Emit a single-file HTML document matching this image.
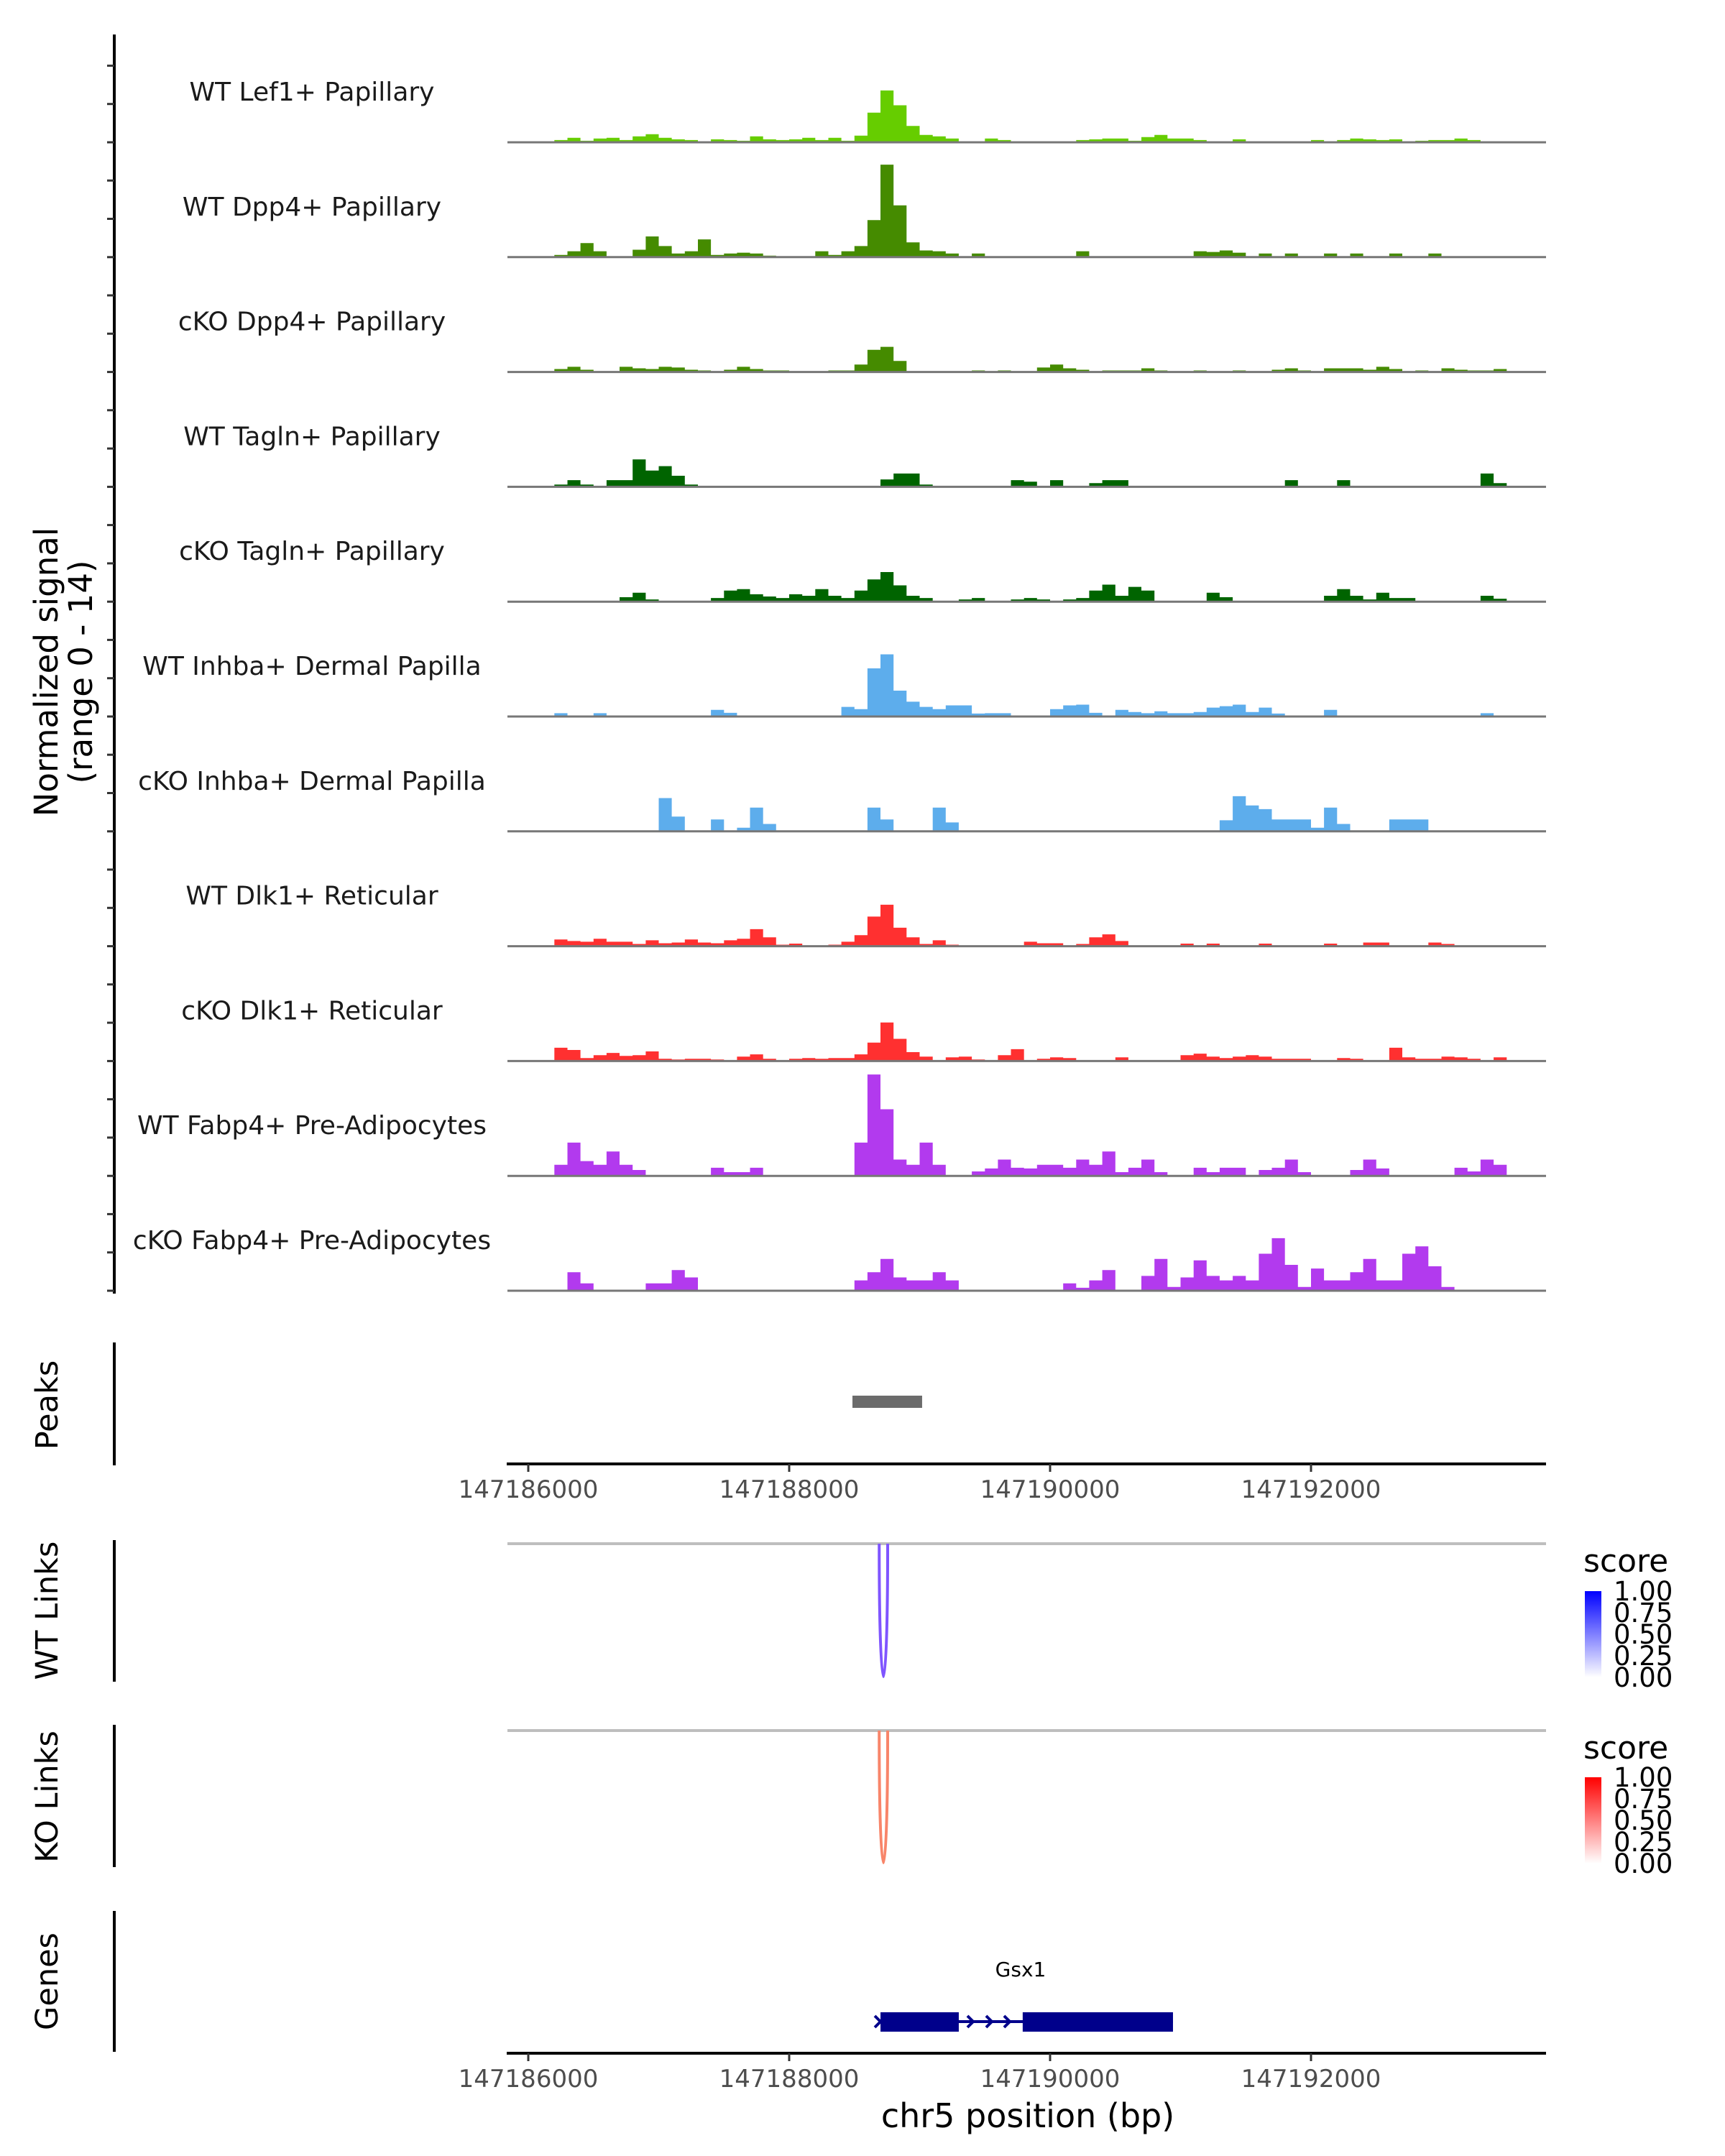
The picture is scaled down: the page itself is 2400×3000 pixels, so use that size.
<!DOCTYPE html>
<html><head><meta charset="utf-8"><style>
html,body{margin:0;padding:0;background:#fff;}
svg{display:block;font-family:"DejaVu Sans","Liberation Sans",sans-serif;}
</style></head><body>
<svg id="chart" width="2400" height="3000" viewBox="0 0 2400 3000" xmlns="http://www.w3.org/2000/svg">
<defs>
<linearGradient id="gBlue" x1="0" y1="1" x2="0" y2="0"><stop offset="0" stop-color="#ffffff"/><stop offset="1" stop-color="#0000ff"/></linearGradient>
<linearGradient id="gRed" x1="0" y1="1" x2="0" y2="0"><stop offset="0" stop-color="#ffffff"/><stop offset="1" stop-color="#ff0000"/></linearGradient>
</defs>
<g id="tracks"></g>
<line x1="159" y1="48" x2="159" y2="1800" stroke="#000" stroke-width="4"/>
<g id="yticks"></g>
<text transform="translate(80,935) rotate(-90)" text-anchor="middle" font-size="45" fill="#000">Normalized signal</text>
<text transform="translate(128,935) rotate(-90)" text-anchor="middle" font-size="45" fill="#000">(range 0 - 14)</text>

<line x1="159" y1="1868" x2="159" y2="2039" stroke="#000" stroke-width="4"/>
<text transform="translate(80,1955) rotate(-90)" text-anchor="middle" font-size="43">Peaks</text>
<rect id="peakbar" fill="#6b6b6b"/>
<g id="xaxis1"></g>

<line x1="159" y1="2143" x2="159" y2="2340" stroke="#000" stroke-width="4"/>
<text transform="translate(80,2241) rotate(-90)" text-anchor="middle" font-size="43">WT Links</text>
<line x1="706" y1="2148" x2="2151" y2="2148" stroke="#bebebe" stroke-width="4"/>
<path id="wtlink" fill="none" stroke="#7f55ff" stroke-width="4"/>

<line x1="159" y1="2400" x2="159" y2="2598" stroke="#000" stroke-width="4"/>
<text transform="translate(80,2500) rotate(-90)" text-anchor="middle" font-size="43">KO Links</text>
<line x1="706" y1="2408" x2="2151" y2="2408" stroke="#bebebe" stroke-width="4"/>
<path id="kolink" fill="none" stroke="#f8856a" stroke-width="4"/>

<g>
<text x="2203" y="2187" font-size="44">score</text>
<rect x="2205" y="2214" width="23" height="120" fill="url(#gBlue)"/>
<g font-size="37" fill="#000">
<text x="2245" y="2227">1.00</text><text x="2245" y="2257">0.75</text><text x="2245" y="2287">0.50</text><text x="2245" y="2317">0.25</text><text x="2245" y="2347">0.00</text>
</g></g>
<g>
<text x="2203" y="2447" font-size="44">score</text>
<rect x="2205" y="2473" width="23" height="120" fill="url(#gRed)"/>
<g font-size="37" fill="#000">
<text x="2245" y="2486">1.00</text><text x="2245" y="2516">0.75</text><text x="2245" y="2546">0.50</text><text x="2245" y="2576">0.25</text><text x="2245" y="2606">0.00</text>
</g></g>

<line x1="159" y1="2659" x2="159" y2="2855" stroke="#000" stroke-width="4"/>
<text transform="translate(80,2757) rotate(-90)" text-anchor="middle" font-size="43">Genes</text>
<g id="gene"></g>
<g id="xaxis2"></g>
<text x="1430" y="2960" text-anchor="middle" font-size="46">chr5 position (bp)</text>
</svg>
<script>
// ---- data ----
const startBp = 147186000;
const binSize = 100;
const trackNames = ["WT Lef1+ Papillary","WT Dpp4+ Papillary","cKO Dpp4+ Papillary","WT Tagln+ Papillary","cKO Tagln+ Papillary","WT Inhba+ Dermal Papilla","cKO Inhba+ Dermal Papilla","WT Dlk1+ Reticular","cKO Dlk1+ Reticular","WT Fabp4+ Pre-Adipocytes","cKO Fabp4+ Pre-Adipocytes"];
const trackColors = ["#66cd00","#458b00","#458b00","#006400","#006400","#5dadec","#5dadec","#ff3030","#ff3030","#b23aee","#b23aee"];
const wtLef1 = [0,0,0.3,0.6,0.2,0.5,0.6,0.3,0.8,1.1, 0.6,0.4,0.3,0.1,0.4,0.3,0.2,0.8,0.4,0.3, 0.4,0.6,0.3,0.6,0.2,0.9,4.0,7.0,5.0,2.2, 1.0,0.8,0.5,0,0,0.5,0.3,0,0,0, 0,0,0.3,0.4,0.5,0.5,0.2,0.7,1.0,0.5, 0.5,0.3,0,0,0.4,0,0,0.1,0,0, 0.3,0,0.3,0.5,0.4,0.3,0.4,0,0.2,0.3, 0.3,0.5,0.3,0.1,0,0,0,0];
const wtDpp4 = [0,0,0.3,0.8,1.9,0.8,0,0,1.0,2.8, 1.5,0.5,0.8,2.4,0.3,0.5,0.6,0.5,0.2,0, 0,0,0.8,0.3,0.8,1.5,5.0,12.5,7.0,2.0, 0.9,0.8,0.5,0.1,0.5,0,0,0,0,0, 0,0,0.8,0,0,0,0,0,0,0, 0,0.8,0.7,0.9,0.6,0,0.5,0,0.5,0, 0,0.5,0,0.5,0,0,0.5,0,0,0.5, 0,0,0,0,0,0,0,0];
const ckoDpp4 = [0,0,0.4,0.7,0.3,0,0,0.7,0.5,0.4, 0.7,0.6,0.3,0.2,0,0.3,0.7,0.4,0.2,0.2, 0,0,0,0.2,0.2,1.0,3.0,3.4,1.5,0, 0,0,0,0,0.2,0,0.2,0,0,0.6, 1.0,0.5,0.3,0,0.2,0.2,0.2,0.5,0.2,0, 0,0.2,0,0,0.2,0,0,0.3,0.5,0.2, 0,0.5,0.5,0.5,0.3,0.7,0.4,0,0.2,0, 0.5,0.3,0.2,0.2,0.4,0,0,0];
const wtTagln = [0,0,0.3,0.9,0.3,0,0.9,0.9,3.7,2.2, 2.8,1.5,0.3,0,0,0,0,0,0,0, 0,0,0,0,0,0,0,1.0,1.8,1.8, 0.3,0,0,0,0,0,0,0.9,0.7,0, 0.9,0,0,0.5,0.9,0.9,0,0,0,0, 0,0,0,0,0,0,0,0,0.9,0, 0,0,0.9,0,0,0,0,0,0,0, 0,0,0,1.8,0.5,0,0,0];
const ckoTagln = [0,0,0,0,0,0,0,0.6,1.2,0.3, 0,0,0,0,0.5,1.5,1.7,1.0,0.7,0.5, 1.0,0.8,1.7,0.8,0.5,1.5,3.0,4.0,2.2,0.8, 0.5,0,0,0.3,0.5,0,0,0.3,0.5,0.3, 0,0.3,0.5,1.5,2.3,0.8,2.0,1.5,0,0, 0,0,1.2,0.6,0,0,0,0,0,0, 0,0.8,1.7,0.8,0.3,1.2,0.5,0.5,0,0, 0,0,0,0.8,0.4,0,0,0];
const wtInhba = [0,0,0.45,0,0,0.45,0,0,0,0, 0,0,0,0,0.9,0.5,0,0,0,0, 0,0,0,0,1.3,1.0,6.5,8.4,3.5,2.0, 1.3,1.0,1.5,1.5,0.4,0.45,0.45,0,0,0, 1.0,1.5,1.6,0.5,0,0.9,0.6,0.45,0.7,0.45, 0.45,0.6,1.2,1.4,1.6,0.6,1.2,0.4,0,0, 0,0.9,0,0,0,0,0,0,0,0, 0,0,0,0.45,0,0,0,0];
const ckoInhba = [0,0,0,0,0,0,0,0,0,0, 4.5,2.0,0,0,1.6,0,0.5,3.2,1.0,0, 0,0,0,0,0,0,3.2,1.6,0,0, 0,3.2,1.2,0,0,0,0,0,0,0, 0,0,0,0,0,0,0,0,0,0, 0,0,0,1.5,4.75,3.5,3.0,1.6,1.6,1.6, 0.5,3.2,1.0,0,0,0,1.6,1.6,1.6,0, 0,0,0,0,0,0,0,0];
const wtDlk1 = [0,0,0.9,0.7,0.6,1.0,0.6,0.6,0.3,0.8, 0.4,0.5,0.9,0.5,0.4,0.8,1.0,2.3,1.2,0.2, 0.35,0,0,0.2,0.6,1.5,4.0,5.6,2.5,1.2, 0.3,0.8,0.2,0,0,0,0,0,0.6,0.4, 0.4,0,0.3,1.2,1.6,0.7,0,0,0,0, 0.35,0,0.35,0,0,0,0.35,0,0,0, 0,0.35,0,0,0.5,0.5,0,0,0,0.5, 0.3,0,0,0,0,0,0,0];
const ckoDlk1 = [0,0,1.8,1.5,0.4,0.8,1.1,0.7,0.8,1.3, 0.3,0.2,0.3,0.3,0.2,0,0.6,0.9,0.3,0, 0.3,0.4,0.3,0.4,0.4,0.9,2.5,5.2,3.0,1.2, 0.6,0.1,0.5,0.6,0.2,0,0.8,1.6,0,0.3, 0.5,0.4,0,0,0,0.5,0,0,0,0, 0.8,1.0,0.6,0.4,0.6,0.8,0.6,0.3,0.3,0.3, 0,0,0.4,0.3,0,0,1.8,0.5,0.3,0.3, 0.6,0.5,0.3,0,0.5,0,0,0];
const wtFabp4 = [0,0,1.5,4.5,2.0,1.5,3.3,1.5,0.8,0, 0,0,0,0,1.1,0.5,0.5,1.1,0,0, 0,0,0,0,0,4.5,13.7,9.0,2.2,1.5, 4.5,1.5,0,0,0.6,1.0,2.2,1.1,1.0,1.5, 1.5,1.1,2.2,1.5,3.3,0.5,1.1,2.2,0.5,0, 0,1.1,0.5,1.1,1.1,0,0.8,1.1,2.2,0.5, 0,0,0,0.8,2.2,1.0,0,0,0,0, 0,1.1,0.6,2.2,1.5,0,0,0];
const ckoFabp4 = [0,0,0,2.5,1.0,0,0,0,0,1.0, 1.0,2.8,1.8,0,0,0,0,0,0,0, 0,0,0,0,0,1.4,2.5,4.3,1.8,1.4, 1.4,2.5,1.4,0,0,0,0,0,0,0, 0,1.0,0.4,1.4,2.8,0,0,2.0,4.3,0.5, 1.8,4.1,2.0,1.4,2.0,1.4,5.0,7.1,3.5,0.5, 3.0,1.4,1.4,2.5,4.3,1.4,1.4,5.0,6.0,3.3, 0.5,0,0,0,0,0,0,0];
const seriesValues = [wtLef1,wtDpp4,ckoDpp4,wtTagln,ckoTagln,wtInhba,ckoInhba,wtDlk1,ckoDlk1,wtFabp4,ckoFabp4];
const xTicks = [147186000,147188000,147190000,147192000];
const peakStart = 147188485, peakEnd = 147189019;
const wtLinkEnds = [147188690,147188755];
const koLinkEnds = [147188690,147188755];
const geneStart = 147188700, geneEnd = 147190942;
const exons = [[147188700,147189300],[147189790,147190942]];

// ---- scales ----
const NS = "http://www.w3.org/2000/svg";
function xS(bp){ return 735 + (bp - startBp) * 0.1815; }
function baseY(i){ return 198 + i * 159.8; }
function yS(v, i){ return baseY(i) - v * 10.3; }
function mk(tag, attrs, parent){ const e = document.createElementNS(NS, tag); for (const k in attrs) e.setAttribute(k, attrs[k]); parent.appendChild(e); return e; }

const tracksG = document.getElementById('tracks');
seriesValues.forEach((vals, t) => {
  let d = "M" + xS(startBp) + "," + baseY(t);
  vals.forEach((v, b) => {
    const x0 = xS(startBp + b * binSize), x1 = xS(startBp + (b + 1) * binSize);
    d += " L" + x0.toFixed(1) + "," + yS(v, t).toFixed(1) + " L" + x1.toFixed(1) + "," + yS(v, t).toFixed(1);
  });
  d += " L" + xS(startBp + vals.length * binSize) + "," + baseY(t) + " Z";
  const p = mk('path', {d: d, fill: trackColors[t]}, tracksG);
  
  
  const ln = mk('line', {x1: 706, x2: 2151, y1: baseY(t), y2: baseY(t), stroke: '#777', 'stroke-width': 3}, tracksG);
  
  
  const tx = mk('text', {x: 434, y: baseY(t) - 58, 'text-anchor': 'middle', 'font-size': 36, fill: '#1a1a1a'}, tracksG);
  tx.textContent = trackNames[t];
  
  
});

const yt = document.getElementById('yticks');
for (let t = 0; t < seriesValues.length; t++) {
  for (let k = 0; k < 3; k++) {
    const y = baseY(t) - k * 53.3;
    const tk = mk('line', {x1: 149, x2: 159, y1: y, y2: y, stroke: '#333', 'stroke-width': 3}, yt);
    
    
  }
}

const pb = document.getElementById('peakbar');
pb.setAttribute('x', xS(peakStart)); pb.setAttribute('width', xS(peakEnd) - xS(peakStart));
pb.setAttribute('y', 1942); pb.setAttribute('height', 17);

function xAxis(g, y) {
  mk('line', {x1: 705, x2: 2151, y1: y, y2: y, stroke: '#000', 'stroke-width': 4}, g);
  xTicks.forEach(v => {
    const tk = mk('line', {x1: xS(v), x2: xS(v), y1: y, y2: y + 11, stroke: '#333', 'stroke-width': 3}, g);
    
    
    const tl = mk('text', {x: xS(v), y: y + 47, 'text-anchor': 'middle', 'font-size': 34, fill: '#4d4d4d'}, g);
    tl.textContent = v;
    
    
  });
}
xAxis(document.getElementById('xaxis1'), 2037);
xAxis(document.getElementById('xaxis2'), 2857);

function arc(el, ends, top, bottom) {
  const a = xS(ends[0]), b = xS(ends[1]);
  const c = top + (bottom - top) / 0.75;
  el.setAttribute('d', `M${a},${top} C${a},${c} ${b},${c} ${b},${top}`);
}
arc(document.getElementById('wtlink'), wtLinkEnds, 2148, 2333);
arc(document.getElementById('kolink'), koLinkEnds, 2408, 2592);

const gG = document.getElementById('gene');
mk('line', {x1: xS(geneStart), x2: xS(geneEnd), y1: 2813, y2: 2813, stroke: '#00008b', 'stroke-width': 4}, gG);
exons.forEach(e => {
  const r = mk('rect', {x: xS(e[0]), y: 2800, width: xS(e[1]) - xS(e[0]), height: 27, fill: '#00008b'}, gG);
  
  
});
[1346, 1372, 1397].forEach(x => {
  mk('path', {d: `M${x},2805 L${x + 8},2813 L${x},2821`, fill: 'none', stroke: '#00008b', 'stroke-width': 4}, gG);
});
mk('path', {d: `M${xS(geneStart) - 8},2805 L${xS(geneStart)},2813 L${xS(geneStart) - 8},2821`, fill: 'none', stroke: '#00008b', 'stroke-width': 4}, gG);
const gl = mk('text', {x: 1420, y: 2750, 'text-anchor': 'middle', 'font-size': 28, fill: '#000'}, gG);
gl.textContent = 'Gsx1';


</script>
</body></html>
